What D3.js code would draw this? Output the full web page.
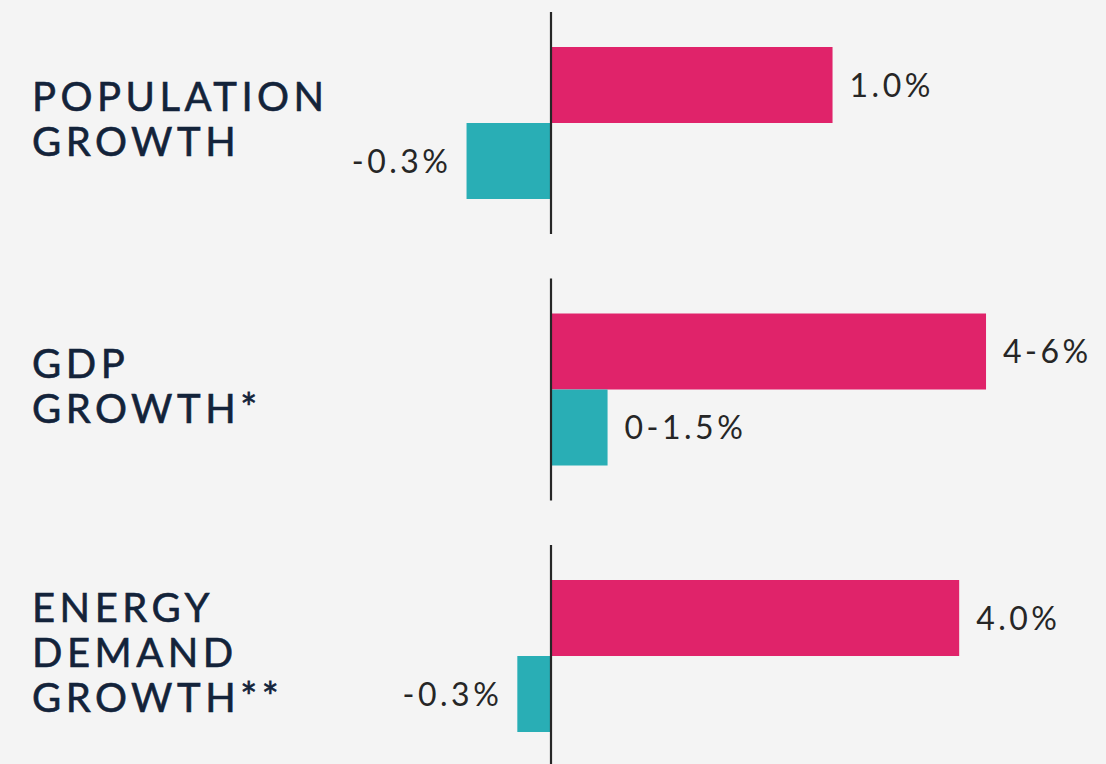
<!DOCTYPE html>
<html lang="en">
<head>
  <meta charset="UTF-8">
  <title>Growth comparison</title>
  <script src="https://d3js.org/d3.v7.min.js"></script>
  <style>
    html, body { margin: 0; padding: 0; background: #f4f4f4; }
  </style>
</head>
<body>
  <svg id="chart" width="1106" height="764"></svg>
  <script>
    // data
    const groups = ['population', 'gdp', 'energy'];
    const groupLabels = [
      ['POPULATION', 'GROWTH'],
      ['GDP', 'GROWTH*'],
      ['ENERGY', 'DEMAND', 'GROWTH**']
    ];
    const series = ['first', 'second'];
    const firstValues = [1.0, 5.0, 4.0];
    const secondValues = [-0.3, 0.65, -0.33];
    const firstLabels = ['1.0%', '4-6%', '4.0%'];
    const secondLabels = ['-0.3%', '0-1.5%', '-0.3%'];
    // each panel has its own scale
    const domainMax = [1.95, 6.31, 5.38];

    const colors = { first: '#e0236a', second: '#29aeb5' };

    const svg = d3.select('#chart');
    const axisX = 551;
    const rightX = 1100;

    const yGroup = d3.scaleBand().domain(groups).range([12, 767]).paddingInner(0.167).paddingOuter(0);
    const ySeries = d3.scaleBand().domain(series).range([35, 187]);

    groups.forEach((g, i) => {
      const x = d3.scaleLinear().domain([0, domainMax[i]]).range([axisX, rightX]);
      const top = yGroup(g);
      const grp = svg.append('g').attr('transform', `translate(0,${top})`);

      const rows = [
        { key: 'first', value: firstValues[i], label: firstLabels[i] },
        { key: 'second', value: secondValues[i], label: secondLabels[i] }
      ];

      grp.selectAll('rect')
        .data(rows)
        .join('rect')
        .attr('x', d => Math.min(x(0), x(d.value)))
        .attr('width', d => Math.abs(x(d.value) - x(0)))
        .attr('y', d => ySeries(d.key))
        .attr('height', ySeries.bandwidth())
        .attr('fill', d => colors[d.key]);

      grp.selectAll('text.value')
        .data(rows)
        .join('text')
        .attr('class', 'value')
        .attr('x', d => d.value < 0 ? x(d.value) - 15 : x(d.value) + 17)
        .attr('y', d => ySeries(d.key) + ySeries.bandwidth() / 2)
        .attr('dy', '0.36em')
        .attr('text-anchor', d => d.value < 0 ? 'end' : 'start')
        .style('font-family', 'Lato, sans-serif')
        .style('font-size', '32px')
        .style('letter-spacing', '3.5px')
        .attr('fill', '#262626')
        .text(d => d.label);

      // zero line
      grp.append('line')
        .attr('x1', x(0)).attr('x2', x(0))
        .attr('y1', 0).attr('y2', yGroup.bandwidth())
        .attr('stroke', '#262626')
        .attr('stroke-width', 2.2);

      // category label
      const lines = groupLabels[i];
      const mid = yGroup.bandwidth() / 2;
      grp.append('text')
        .attr('x', 33)
        .style('font-family', 'Lato, sans-serif')
        .style('font-size', '40px')
        .style('letter-spacing', '4.5px')
        .attr('fill', '#13233a')
        .attr('stroke', '#13233a')
        .attr('stroke-width', 0.6)
        .selectAll('tspan')
        .data(lines)
        .join('tspan')
        .attr('x', 32)
        .attr('y', (d, j) => mid + (j - (lines.length - 1) / 2) * 45 + 11)
        .text(d => d);
    });
  </script>
</body>
</html>
